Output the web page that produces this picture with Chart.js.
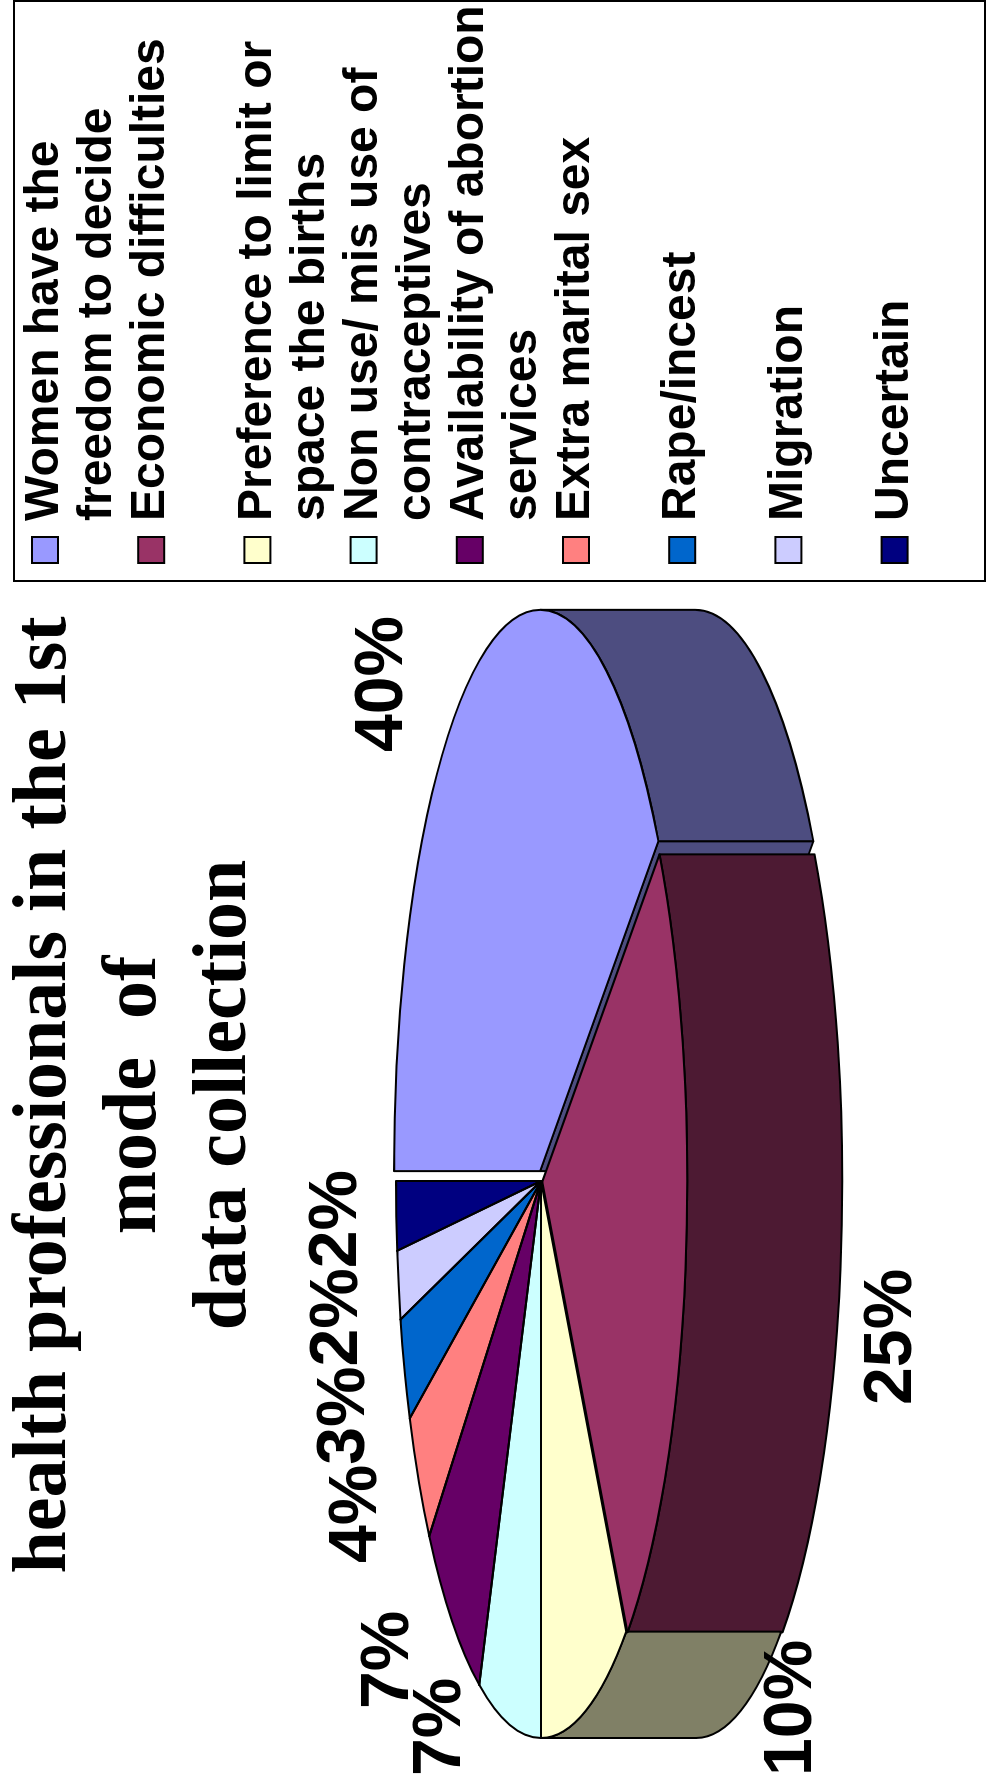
<!DOCTYPE html>
<html>
<head>
<meta charset="utf-8">
<title>Reasons for abortion - health professionals</title>
<script src="https://cdn.jsdelivr.net/npm/chart.js@4.4.1/dist/chart.umd.min.js"></script>
<style>
    html, body { margin: 0; padding: 0; background: #fff; overflow: hidden; }
    body { width: 993px; height: 1776px; position: relative; }
    /* the chart is laid out landscape and turned a quarter turn to the left */
    #stage {
        position: absolute; left: 0; top: 0; width: 1776px; height: 993px;
        transform-origin: 0 0; transform: translate(0, 1776px) rotate(-90deg);
    }
</style>
</head>
<body>
<div id="stage"><canvas id="reasonsChart" width="1776" height="993"></canvas></div>
<script>
// Title lines visible in the frame
const titleLines = ['health professionals in the 1st', 'mode  of', 'data collection'];

// Slices (percent of answers)
const reasons = [
    'Women have the freedom to decide',
    'Economic difficulties',
    'Preference to limit or space the births',
    'Non use/ mis use of contraceptives',
    'Availability of abortion services',
    'Extra marital sex',
    'Rape/incest',
    'Migration',
    'Uncertain'
];
const shares = [40, 25, 10, 7, 7, 4, 3, 2, 2];

const sliceColors = ['#9999FF', '#993366', '#FFFFCC', '#CCFFFF', '#660066', '#FF8080', '#0066CC', '#CCCCFF', '#000080'];
const sliceOffsets = [26, 12, 0, 0, 0, 0, 0, 0, 0];

// Tilted pie on the landscape canvas
const PIE = { cx: 595, cy: 541, rx: 557, ry: 145, depth: 155 };
const LABELS = { font: 'bold 68px "Liberation Sans", Arial, sans-serif', cap: 49, boxH: 52, gapBack: 39, gapFront: 20, minX: 0, maxX: 1160 };
const LEGEND = {
    left: 1195, top: 14, right: 1775, bottom: 985,
    swatchX: 1213, swatch: 26, textX: 1255,
    firstY: 45, lineH: 53, slotH: 106.2, maxW: 522,
    font: 'bold 48px "Liberation Sans", Arial, sans-serif'
};

function shade(hex, f) {
    const n = parseInt(hex.slice(1), 16);
    const r = Math.round(((n >> 16) & 255) * f);
    const g = Math.round(((n >> 8) & 255) * f);
    const b = Math.round((n & 255) * f);
    return `rgb(${r},${g},${b})`;
}

// Same geometry as the library's arc, mapped onto the tilted ellipse
function sliceGeom(arc, r0) {
    const p = arc.getProps(['x', 'y', 'startAngle', 'endAngle', 'outerRadius'], true);
    const sx = PIE.rx / r0, sy = PIE.ry / r0;
    const off = (arc.options.offset || 0) / 4;
    const mid = (p.startAngle + p.endAngle) / 2;
    const fix = 1 - Math.sin(Math.min(Math.PI, p.endAngle - p.startAngle));
    const R = p.outerRadius + off * fix;
    return {
        cx: PIE.cx + Math.cos(mid) * off * sx,
        cy: PIE.cy + Math.sin(mid) * off * sy,
        rx: R * sx, ry: R * sy,
        a0: p.startAngle, a1: p.endAngle, mid
    };
}

function wrapText(ctx, text, maxW) {
    const lines = [];
    let line = '';
    text.split(' ').forEach(w => {
        const test = line ? line + ' ' + w : w;
        if (line && ctx.measureText(test).width > maxW) {
            lines.push(line);
            line = w;
        } else {
            line = test;
        }
    });
    if (line) lines.push(line);
    return lines;
}

function drawLabels(chart, slices) {
    const ctx = chart.ctx;
    const total = shares.reduce((a, b) => a + b, 0);
    const hh = LABELS.boxH / 2;
    ctx.save();
    ctx.font = LABELS.font;

    const topAt = (s, x0, x1) => {
        const x = Math.min(Math.max(s.cx, x0), x1);
        const k = (x - s.cx) / s.rx;
        return s.cy - s.ry * Math.sqrt(Math.max(0, 1 - k * k));
    };
    const fitY = (L) => {
        if (L.front) return L.ay + LABELS.gapFront + hh;
        return Math.min(L.ay, topAt(L.s, L.x - L.hw, L.x + L.hw)) - LABELS.gapBack - hh;
    };

    const items = slices.map((s, i) => {
        const text = Math.round(shares[i] / total * 100) + '%';
        const hw = ctx.measureText(text).width / 2;
        const c = Math.cos(s.mid), sn = Math.sin(s.mid);
        const front = sn > 0;
        const ax = s.cx + s.rx * c;
        const ay = s.cy + s.ry * sn + (front ? PIE.depth : 0);
        const reach = front ? Math.sign(c) : c;
        const L = { text, hw, s, front, ay };
        L.x = Math.min(Math.max(ax + reach * hw, LABELS.minX + hw), LABELS.maxX - hw);
        L.y = fitY(L);
        return L;
    });

    // push overlapping labels apart, last slice first
    const placed = [];
    for (let i = items.length - 1; i >= 0; i--) {
        const L = items[i];
        for (let pass = 0; pass < 10; pass++) {
            const P = placed.find(q => Math.abs(q.x - L.x) < q.hw + L.hw - 0.5 && Math.abs(q.y - L.y) < 2 * hh - 0.5);
            if (!P) break;
            if (Math.abs(P.y - L.y) < hh) {
                L.x = L.x < P.x ? P.x - P.hw - L.hw : P.x + P.hw + L.hw;
                L.y = fitY(L);
            } else {
                L.y = L.y > P.y ? P.y + 2 * hh : P.y - 2 * hh;
            }
        }
        placed.push(L);
    }

    ctx.fillStyle = '#000';
    ctx.textAlign = 'center';
    ctx.textBaseline = 'alphabetic';
    items.forEach(L => ctx.fillText(L.text, L.x, L.y + LABELS.cap / 2));
    ctx.restore();
}

function drawLegend(chart) {
    const ctx = chart.ctx;
    const colors = chart.data.datasets[0].backgroundColor;
    ctx.save();
    ctx.lineWidth = 2;
    ctx.strokeStyle = '#000';
    ctx.strokeRect(LEGEND.left, LEGEND.top, LEGEND.right - LEGEND.left, LEGEND.bottom - LEGEND.top);
    ctx.font = LEGEND.font;
    ctx.textAlign = 'left';
    ctx.textBaseline = 'middle';
    chart.data.labels.forEach((label, i) => {
        const y = LEGEND.firstY + i * LEGEND.slotH;
        const half = LEGEND.swatch / 2;
        ctx.fillStyle = colors[i];
        ctx.fillRect(LEGEND.swatchX, y - half, LEGEND.swatch, LEGEND.swatch);
        ctx.strokeRect(LEGEND.swatchX, y - half, LEGEND.swatch, LEGEND.swatch);
        ctx.fillStyle = '#000';
        wrapText(ctx, label, LEGEND.maxW).forEach((line, k) => {
            ctx.fillText(line, LEGEND.textX, y + k * LEGEND.lineH);
        });
    });
    ctx.restore();
}

const tiltedPie = {
    id: 'tiltedPie',
    beforeDatasetsDraw(chart) {
        const ctx = chart.ctx;
        const arcs = chart.getDatasetMeta(0).data;
        const r0 = arcs[0].outerRadius;
        const slices = arcs.map(a => sliceGeom(a, r0));
        const D = PIE.depth;
        chart.$slices = slices;

        ctx.save();
        ctx.lineWidth = 2;
        ctx.strokeStyle = '#000';
        ctx.lineJoin = 'round';
        // cut faces turned towards the viewer
        slices.forEach((s, i) => {
            [[s.a0, -1], [s.a1, 1]].forEach(([a, dir]) => {
                if (dir * Math.cos(a) <= 0.05) return;
                const x = s.cx + s.rx * Math.cos(a), y = s.cy + s.ry * Math.sin(a);
                ctx.beginPath();
                ctx.moveTo(s.cx, s.cy);
                ctx.lineTo(x, y);
                ctx.lineTo(x, y + D);
                ctx.lineTo(s.cx, s.cy + D);
                ctx.closePath();
                ctx.fillStyle = shade(sliceColors[i], 0.5);
                ctx.fill();
                ctx.stroke();
            });
        });
        // outer walls of the front half
        slices.forEach((s, i) => {
            const t0 = Math.max(s.a0, 0), t1 = Math.min(s.a1, Math.PI);
            if (t1 <= t0) return;
            ctx.beginPath();
            ctx.ellipse(s.cx, s.cy, s.rx, s.ry, 0, t0, t1);
            ctx.ellipse(s.cx, s.cy + D, s.rx, s.ry, 0, t1, t0, true);
            ctx.closePath();
            ctx.fillStyle = shade(sliceColors[i], 0.5);
            ctx.fill();
            ctx.stroke();
        });
        ctx.restore();

        // the library draws the slice tops through this squeeze
        ctx.save();
        ctx.translate(PIE.cx, PIE.cy);
        ctx.scale(PIE.rx / r0, PIE.ry / r0);
        ctx.translate(-arcs[0].x, -arcs[0].y);
    },
    afterDatasetsDraw(chart) {
        const ctx = chart.ctx;
        ctx.restore();
        const slices = chart.$slices;
        ctx.save();
        ctx.lineWidth = 2;
        ctx.strokeStyle = '#000';
        ctx.lineJoin = 'round';
        slices.forEach(s => {
            ctx.beginPath();
            ctx.moveTo(s.cx, s.cy);
            ctx.ellipse(s.cx, s.cy, s.rx, s.ry, 0, s.a0, s.a1);
            ctx.closePath();
            ctx.stroke();
        });
        ctx.restore();
        drawLabels(chart, slices);
    },
    afterDraw(chart) {
        drawLegend(chart);
    }
};

new Chart(document.getElementById('reasonsChart'), {
    type: 'pie',
    data: {
        labels: reasons,
        datasets: [{
            data: shares,
            backgroundColor: sliceColors,
            borderWidth: 0,
            offset: sliceOffsets,
            hoverOffset: 0,
            clip: false
        }]
    },
    options: {
        responsive: false,
        animation: false,
        events: [],
        layout: { padding: { left: 0, right: 414, top: 0, bottom: 0 } },
        plugins: {
            legend: { display: false },
            tooltip: { enabled: false },
            title: {
                display: true,
                text: titleLines,
                color: '#000',
                font: { family: '"Liberation Serif", "Times New Roman", serif', size: 76, weight: 'bold', lineHeight: '90px' },
                padding: { top: 0, bottom: 0 }
            }
        }
    },
    plugins: [tiltedPie]
});
</script>
</body>
</html>
